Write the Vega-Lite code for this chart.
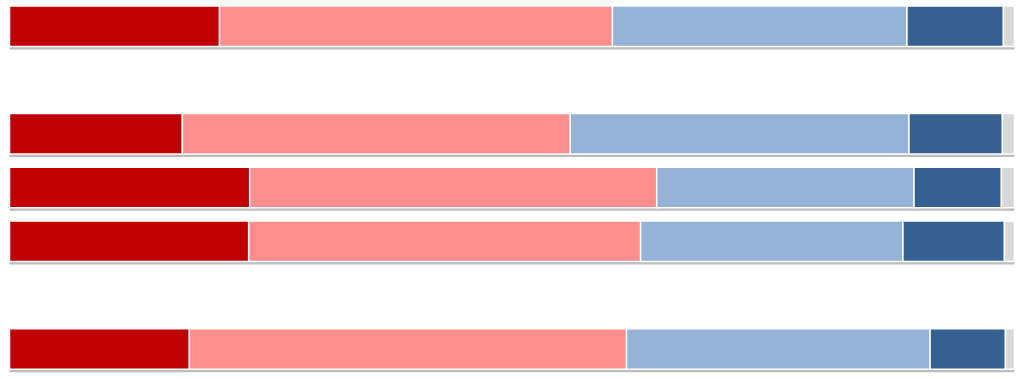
{
  "$schema": "https://vega.github.io/schema/vega-lite/v6.json",
  "autosize": {"type": "none"},
  "padding": {"left": 9.5, "top": 0, "right": 0, "bottom": 0},
  "width": 1005,
  "height": {"step": 53.8},
  "background": "white",
  "config": {"view": {"stroke": null}},
  "data": {"values": [
    {"row": "r1", "k": 1, "cat": "Dark red", "value": 20.9},
    {"row": "r1", "k": 2, "cat": "Light red", "value": 39.1},
    {"row": "r1", "k": 3, "cat": "Light blue", "value": 29.3},
    {"row": "r1", "k": 4, "cat": "Dark blue", "value": 9.6},
    {"row": "r1", "k": 5, "cat": "Gray", "value": 1.1},
    {"row": "r2", "k": 1, "cat": "Dark red", "value": 17.2},
    {"row": "r2", "k": 2, "cat": "Light red", "value": 38.6},
    {"row": "r2", "k": 3, "cat": "Light blue", "value": 33.7},
    {"row": "r2", "k": 4, "cat": "Dark blue", "value": 9.3},
    {"row": "r2", "k": 5, "cat": "Gray", "value": 1.2},
    {"row": "r3", "k": 1, "cat": "Dark red", "value": 23.9},
    {"row": "r3", "k": 2, "cat": "Light red", "value": 40.5},
    {"row": "r3", "k": 3, "cat": "Light blue", "value": 25.6},
    {"row": "r3", "k": 4, "cat": "Dark blue", "value": 8.7},
    {"row": "r3", "k": 5, "cat": "Gray", "value": 1.3},
    {"row": "r4", "k": 1, "cat": "Dark red", "value": 23.8},
    {"row": "r4", "k": 2, "cat": "Light red", "value": 39.0},
    {"row": "r4", "k": 3, "cat": "Light blue", "value": 26.1},
    {"row": "r4", "k": 4, "cat": "Dark blue", "value": 10.1},
    {"row": "r4", "k": 5, "cat": "Gray", "value": 1.0},
    {"row": "r5", "k": 1, "cat": "Dark red", "value": 17.9},
    {"row": "r5", "k": 2, "cat": "Light red", "value": 43.5},
    {"row": "r5", "k": 3, "cat": "Light blue", "value": 30.2},
    {"row": "r5", "k": 4, "cat": "Dark blue", "value": 7.5},
    {"row": "r5", "k": 5, "cat": "Gray", "value": 0.9}
  ]},
  "encoding": {
    "y": {
      "field": "row", "type": "nominal",
      "scale": {"domain": ["r1", "g1", "r2", "r3", "r4", "g2", "r5"], "paddingInner": 0.247, "paddingOuter": 0.11},
      "axis": null
    }
  },
  "layer": [
    {
      "mark": {"type": "bar", "yOffset": 3, "color": "#bdbdbd", "cornerRadius": 0},
      "encoding": {
        "x": {"aggregate": "sum", "field": "value", "type": "quantitative", "scale": {"domain": [0, 100]}, "axis": null}
      }
    },
    {
      "mark": {"type": "bar", "stroke": "white", "strokeWidth": 1.5},
      "encoding": {
        "x": {"field": "value", "type": "quantitative", "stack": "zero", "scale": {"domain": [0, 100]}, "axis": null},
        "order": {"field": "k", "type": "quantitative"},
        "color": {
          "field": "cat", "type": "nominal",
          "scale": {
            "domain": ["Dark red", "Light red", "Light blue", "Dark blue", "Gray"],
            "range": ["#C00000", "#FF8F8F", "#95B3D7", "#366092", "#D9D9D9"]
          },
          "legend": null
        }
      }
    }
  ]
}
